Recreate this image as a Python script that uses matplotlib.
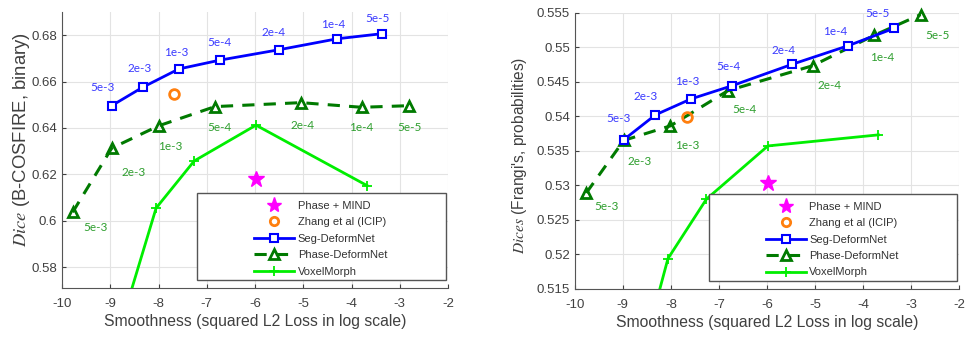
import matplotlib
matplotlib.use('Agg')
import matplotlib.pyplot as plt
from matplotlib.patches import Rectangle
from matplotlib.lines import Line2D

plt.rcParams['font.family'] = ['Liberation Sans', 'DejaVu Sans']
plt.rcParams['mathtext.fontset'] = 'stix'
plt.rcParams['axes.unicode_minus'] = False

LAMBDAS = ['5e-3', '2e-3', '1e-3', '5e-4', '2e-4', '1e-4', '5e-5']

# left panel: B-COSFIRE, binary
L_SEG_X = [-8.97, -8.33, -7.58, -6.73, -5.50, -4.30, -3.37]
L_SEG_Y = [0.6496, 0.6575, 0.6654, 0.6692, 0.6737, 0.6784, 0.6806]
L_PH_X = [-9.78, -8.97, -8.00, -6.83, -5.05, -3.79, -2.80]
L_PH_Y = [0.6037, 0.6313, 0.6409, 0.6492, 0.6509, 0.6489, 0.6496]
L_VM_X = [-9.00, -8.05, -7.26, -5.98, -3.68]
L_VM_Y = [0.540, 0.6055, 0.6258, 0.6412, 0.6152]
L_ZHANG = (-7.67, 0.6546)
L_MIND = (-5.98, 0.618)

# right panel: Frangi's, probabilities
R_SEG_X = [-8.98, -8.32, -7.58, -6.73, -5.48, -4.31, -3.36]
R_SEG_Y = [0.5366, 0.5402, 0.5425, 0.5444, 0.5475, 0.5502, 0.5527]
R_PH_X = [-9.76, -8.98, -8.01, -6.81, -5.05, -3.77, -2.80]
R_PH_Y = [0.5289, 0.5365, 0.5386, 0.5437, 0.5473, 0.5517, 0.5547]
R_VM_X = [-9.00, -8.06, -7.26, -5.98, -3.68]
R_VM_Y = [0.495, 0.5194, 0.5280, 0.5357, 0.5373]
R_ZHANG = (-7.66, 0.5399)
R_MIND = (-5.97, 0.5303)

# label offsets in pixels (dx, dy up)
L_SEG_OFF = [(-9, 18), (-3, 19), (-3, 16), (0, 18), (-6, 17), (-4, 14), (-4, 15)]
L_PH_OFF = [(23, -15), (22, -24), (12, -21), (4, -21), (2, -23), (0, -20), (0, -22)]
R_SEG_OFF = [(-5, 21), (-10, 18), (-4, 17), (-3, 19), (-8, 14), (-13, 14), (-16, 15)]
R_PH_OFF = [(20, -14), (16, -21), (17, -20), (16, -19), (17, -20), (8, -22), (17, -21)]

BLUE = '#0000ff'; DKGREEN = '#007a00'; LGREEN = '#00ee00'
BLUE_TXT = '#3a3aff'; GREEN_TXT = '#2e9e2e'
TICK_C = '#404040'; GRID_C = '#e3e3e3'

fig = plt.figure(figsize=(9.66, 3.39), dpi=100)
axL = fig.add_axes([0.0642, 0.150, 0.3996, 0.815])
axR = fig.add_axes([0.595, 0.1475, 0.3978, 0.8155])


def panel(ax, sx, sy, px, py, vx, vy, zh, mind, soff, poff, ylim, yticks, ylab,
          ylab_size, ylab_xy):
    ax.plot(vx, vy, '-', color=LGREEN, lw=2, marker='+', ms=7, mew=1.3, zorder=3)
    ax.plot(px, py, '--', color=DKGREEN, lw=2.2, dashes=(4, 3), marker='^', ms=7,
            mfc='none', mec=DKGREEN, mew=2, zorder=4, clip_on=False)
    ax.plot(sx, sy, '-', color=BLUE, lw=2, marker='s', ms=6, mfc='white', mec=BLUE,
            mew=1.5, zorder=5)
    ax.plot(*zh, 'o', color='#ff7f0e', ms=7, mfc='none', mew=2, zorder=6)
    ax.plot(*mind, '*', color='#ff00ff', ms=12, zorder=6)
    for x, y, t, (dx, dy) in zip(sx, sy, LAMBDAS, soff):
        ax.annotate(t, (x, y), xytext=(dx, dy), textcoords='offset pixels', ha='center',
                    va='center', fontsize=8.5, color=BLUE_TXT, family='Lato')
    for x, y, t, (dx, dy) in zip(px, py, LAMBDAS, poff):
        ax.annotate(t, (x, y), xytext=(dx, dy), textcoords='offset pixels', ha='center',
                    va='center', fontsize=8.5, color=GREEN_TXT, family='Lato')
    ax.set_xlim(-10, -2)
    ax.set_ylim(*ylim)
    ax.set_xticks(range(-10, -1))
    ax.set_yticks(yticks)
    ax.set_yticklabels([('%g' % v) for v in yticks])
    ax.grid(True, color=GRID_C, lw=0.8)
    ax.set_axisbelow(True)
    for s in ['top', 'right']:
        ax.spines[s].set_visible(False)
    for s in ['left', 'bottom']:
        ax.spines[s].set_color('#555555')
    ax.tick_params(direction='in', length=3, colors=TICK_C, labelsize=9.5)
    ax.tick_params(axis='x', pad=7)
    ax.set_xlabel('Smoothness (squared L2 Loss in log scale)', fontsize=11.3,
                  color=TICK_C, labelpad=3)
    ax.set_ylabel(ylab, fontsize=ylab_size, color=TICK_C)
    ax.yaxis.set_label_coords(*ylab_xy)

    # legend with a separate frame, contents centred in it
    ax.add_patch(Rectangle((0.349, 0.03), 0.645, 0.313, transform=ax.transAxes,
                           facecolor='white', edgecolor='#555555', lw=1, zorder=7))
    handles = [
        Line2D([], [], ls='none', marker='*', color='#ff00ff', ms=11),
        Line2D([], [], ls='none', marker='o', color='#ff7f0e', ms=6, mfc='none', mew=2),
        Line2D([], [], color=BLUE, lw=2, marker='s', ms=6, mfc='white', mew=1.5),
        Line2D([], [], color=DKGREEN, lw=2.2, ls='--', dashes=(4, 3), marker='^', ms=7,
               mfc='none', mew=2),
        Line2D([], [], color=LGREEN, lw=2, marker='+', ms=7, mew=1.3),
    ]
    names = ['Phase + MIND', 'Zhang et al (ICIP)', 'Seg-DeformNet', 'Phase-DeformNet',
             'VoxelMorph']
    leg = ax.legend(handles, names, loc='center', bbox_to_anchor=(0.67, 0.179),
                    frameon=False, fontsize=8, handlelength=3.6, handletextpad=0.3,
                    labelspacing=0.58, borderpad=0.2)
    leg.set_zorder(8)
    for t in leg.get_texts():
        t.set_color('#333333')


panel(axL, L_SEG_X, L_SEG_Y, L_PH_X, L_PH_Y, L_VM_X, L_VM_Y, L_ZHANG, L_MIND,
      L_SEG_OFF, L_PH_OFF, (0.571, 0.690), [0.58, 0.60, 0.62, 0.64, 0.66, 0.68],
      r'$\mathit{Dice}$ (B-COSFIRE, binary)', 13.3, (-0.078, 0.536))
panel(axR, R_SEG_X, R_SEG_Y, R_PH_X, R_PH_Y, R_VM_X, R_VM_Y, R_ZHANG, R_MIND,
      R_SEG_OFF, R_PH_OFF, (0.515, 0.555),
      [0.515, 0.52, 0.525, 0.53, 0.535, 0.54, 0.545, 0.55, 0.555],
      r"$\mathit{Dices}$ (Frangi's, probabilities)", 11.2, (-0.118, 0.485))

fig.savefig('out.png', dpi=100, facecolor='white')
